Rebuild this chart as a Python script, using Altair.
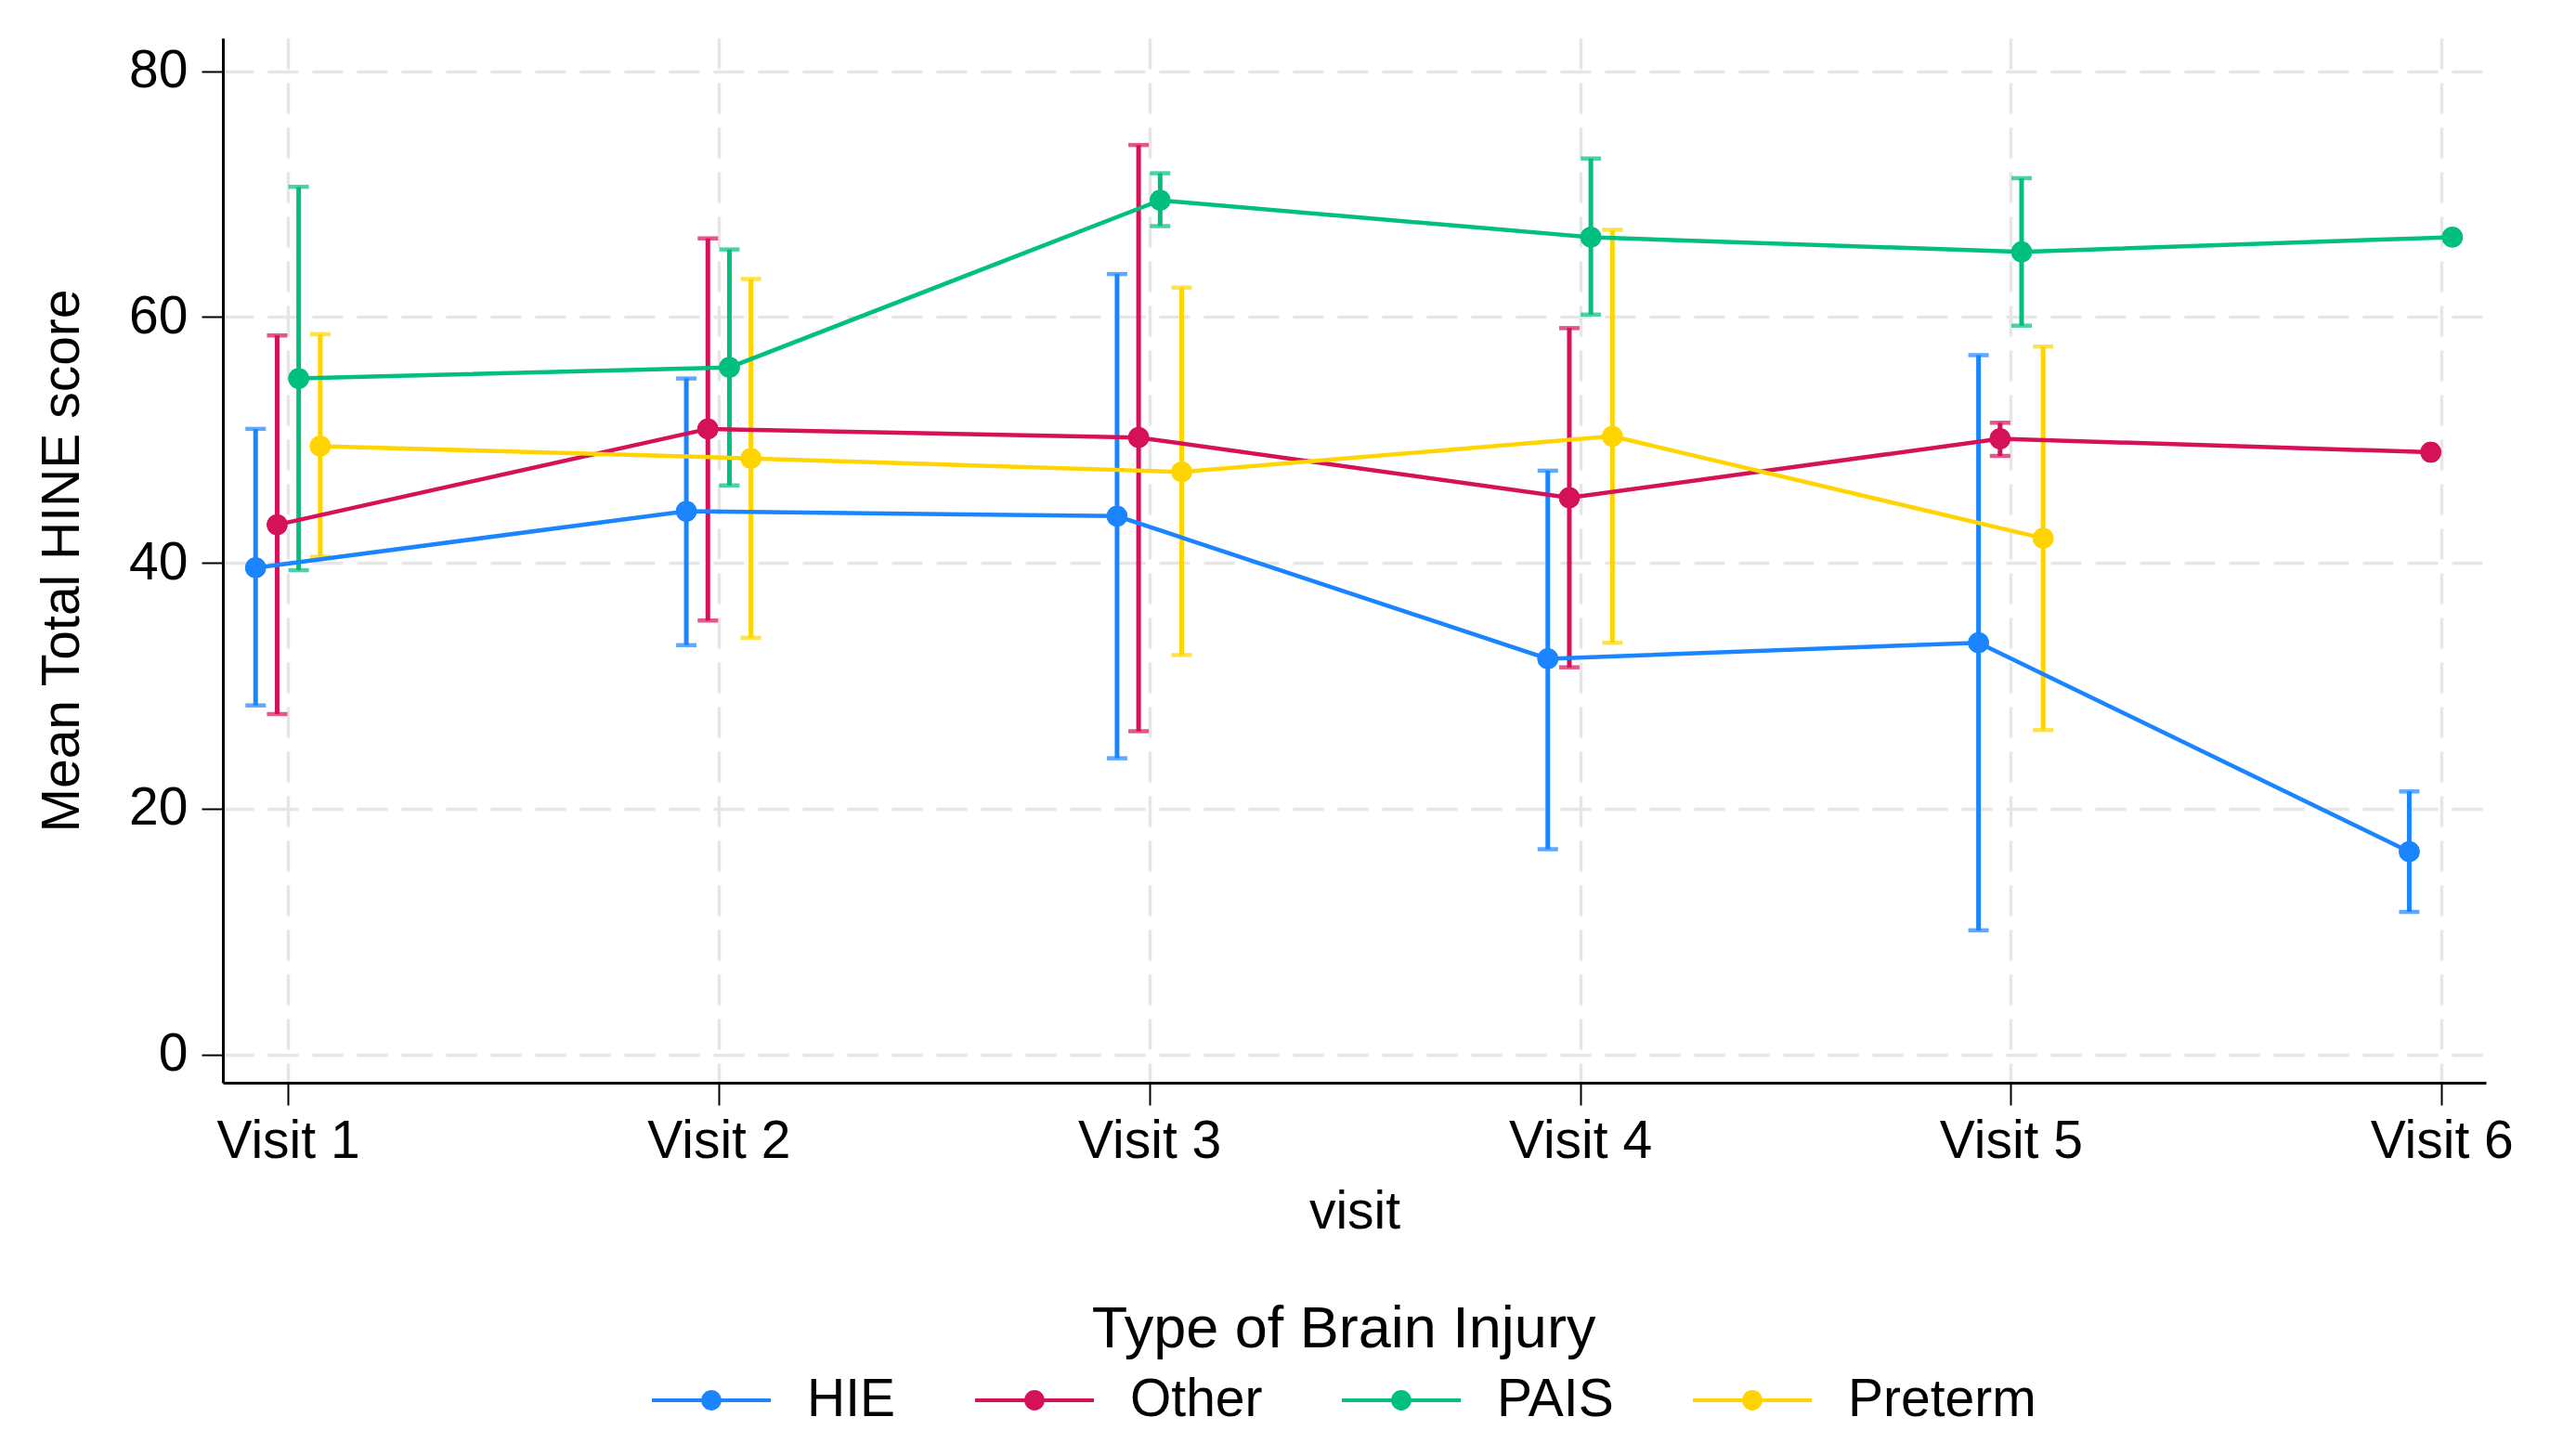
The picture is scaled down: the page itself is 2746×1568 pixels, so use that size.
import altair as alt
import pandas as pd

groups = ["HIE", "Other", "PAIS", "Preterm"]
colors = ["#1a85ff", "#d41159", "#00bf7f", "#ffd400"]
visits = [1, 2, 3, 4, 5, 6]
visit_labels = ["Visit 1", "Visit 2", "Visit 3", "Visit 4", "Visit 5", "Visit 6"]

hie_mean = [39.6, 44.2, 43.8, 32.2, 33.5, 16.5]
hie_lo = [28.4, 33.3, 24.1, 16.7, 10.1, 11.6]
hie_hi = [50.9, 55.0, 63.5, 47.5, 56.9, 21.4]

other_mean = [43.1, 50.9, 50.2, 45.3, 50.1, 49.0]
other_lo = [27.7, 35.3, 26.3, 31.5, 48.7, None]
other_hi = [58.5, 66.4, 74.0, 59.1, 51.4, None]

pais_mean = [55.0, 55.9, 69.5, 66.5, 65.3, 66.5]
pais_lo = [39.4, 46.3, 67.4, 60.2, 59.3, None]
pais_hi = [70.6, 65.5, 71.7, 72.9, 71.3, None]

preterm_mean = [49.5, 48.5, 47.4, 50.3, 42.0, None]
preterm_lo = [40.5, 33.9, 32.5, 33.5, 26.4, None]
preterm_hi = [58.6, 63.1, 62.4, 67.1, 57.6, None]

series = {
    "HIE": (hie_mean, hie_lo, hie_hi),
    "Other": (other_mean, other_lo, other_hi),
    "PAIS": (pais_mean, pais_lo, pais_hi),
    "Preterm": (preterm_mean, preterm_lo, preterm_hi),
}

rows = []
for g, (m, lo, hi) in series.items():
    for v, mv, l, h in zip(visits, m, lo, hi):
        if mv is None:
            continue
        rows.append({"group": g, "visit": v, "mean": mv, "lo": l, "hi": h})
df = pd.DataFrame(rows)

FONT = "Liberation Sans"
path_symbol = ("M -1 -0.032 L 1 -0.032 L 1 0.032 L -1 0.032 Z "
               "M 0.17 0 A 0.17 0.17 0 1 1 -0.17 0 A 0.17 0.17 0 1 1 0.17 0 Z")

base = alt.Chart(df).transform_calculate(
    xpos="datum.visit + (datum.group == 'HIE' ? -0.075 : datum.group == 'Other' ? -0.025 : datum.group == 'PAIS' ? 0.025 : 0.075)"
)

xenc = alt.X(
    "xpos:Q",
    scale=alt.Scale(domain=[0.849, 6.103], nice=False, zero=False),
    axis=alt.Axis(
        values=visits,
        labelExpr="'Visit ' + datum.value",
        title="visit",
        grid=True,
        gridColor="#e6e6e6",
        gridDash=[33, 15],
        gridWidth=3.5,
        tickColor="black",
        tickWidth=2,
        tickSize=24,
        domainColor="black",
        domainWidth=3,
        labelFontSize=57,
        labelPadding=11,
        labelColor="black",
        titleFontSize=57,
        titleFontWeight="normal",
        titleColor="black",
        titlePadding=20,
    ),
)
yscale = alt.Scale(domain=[-2.3, 82.7], nice=False, zero=False)
yaxis = alt.Axis(
    values=[0, 20, 40, 60, 80],
    title="Mean Total HINE score",
    grid=True,
    gridColor="#e6e6e6",
    gridDash=[33, 15],
    gridWidth=3.5,
    tickColor="black",
    tickWidth=2,
    tickSize=23,
    domainColor="black",
    domainWidth=3,
    labelFontSize=57,
    labelPadding=15,
    labelColor="black",
    titleFontSize=57,
    titleFontWeight="normal",
    titleColor="black",
    titlePadding=42,
)
cscale = alt.Scale(domain=groups, range=colors)

legend = alt.Legend(
    title="Type of Brain Injury",
    orient="none",
    legendX=462,
    legendY=1360,
    direction="horizontal",
    titleAnchor="middle",
    titleFontSize=63,
    titleFontWeight="normal",
    titleColor="black",
    titlePadding=-20,
    titleLimit=2000,
    labelLimit=1000,
    labelFontSize=57,
    labelColor="black",
    labelOffset=39,
    columnPadding=85,
    symbolType=path_symbol,
    symbolSize=16384,
    symbolStrokeWidth=0,
    symbolOpacity=1,
)
color = alt.Color("group:N", scale=cscale, legend=legend)

rules = base.mark_rule(strokeWidth=5).encode(
    x=xenc,
    y=alt.Y("lo:Q", scale=yscale, axis=yaxis),
    y2="hi:Q",
    color=color,
).transform_filter("isValid(datum.lo)")

caps_lo = base.mark_tick(orient="horizontal", size=22, thickness=4.5).encode(
    x=xenc,
    y=alt.Y("lo:Q", scale=yscale),
    color=color,
).transform_filter("isValid(datum.lo)")

caps_hi = base.mark_tick(orient="horizontal", size=22, thickness=4.5).encode(
    x=xenc,
    y=alt.Y("hi:Q", scale=yscale),
    color=color,
).transform_filter("isValid(datum.hi)")

lines = base.mark_line(strokeWidth=4.5).encode(
    x=xenc,
    y=alt.Y("mean:Q", scale=yscale),
    color=color,
    order="visit:Q",
)

points = base.mark_point(filled=True, size=500, opacity=1).encode(
    x=xenc,
    y=alt.Y("mean:Q", scale=yscale),
    color=color,
)

chart = alt.layer(points, rules, caps_lo, caps_hi, lines, points).properties(
    width=2437,
    height=1125,
    autosize=alt.AutoSizeParams(type="none"),
    padding={"left": 232, "top": 33, "right": 50, "bottom": 392},
    background="white",
).configure(font=FONT).configure_view(stroke=None)

chart.save("out.html", embed_options={"renderer": "svg", "actions": False})
